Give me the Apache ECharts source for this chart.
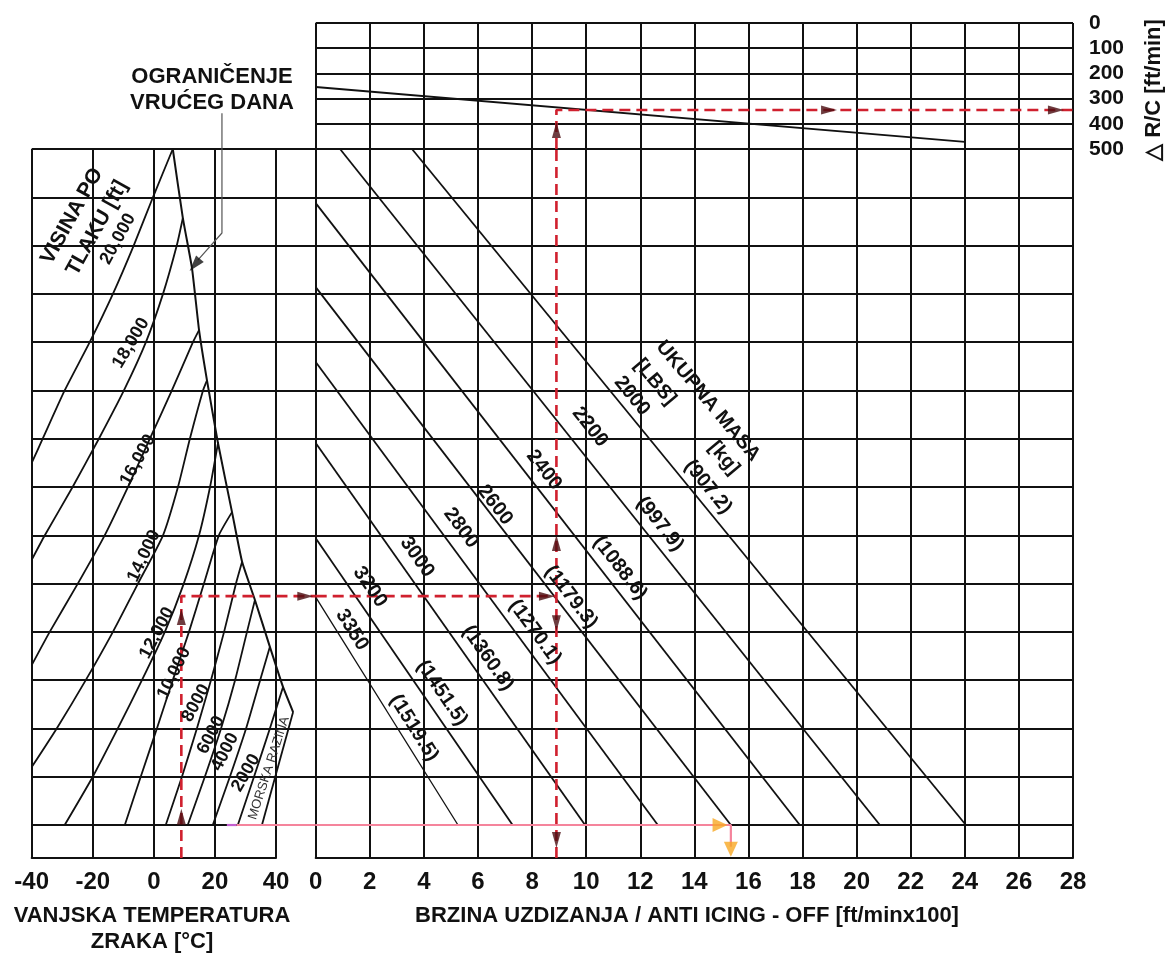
<!DOCTYPE html>
<html><head><meta charset="utf-8">
<script src="https://cdn.jsdelivr.net/npm/echarts@6/dist/echarts.min.js"></script>
<style>html,body{margin:0;padding:0;background:#fff}#c{width:1168px;height:956px}</style>
</head><body><div id="c"></div>
<script>
// ---- axis ranges [min, max, interval] ----
const tempAxis = [-40, 40, 20];      // VANJSKA TEMPERATURA ZRAKA [°C]
const rateAxis = [0, 28, 2];         // BRZINA UZDIZANJA [ft/min x100]
const drcAxis = [0, 500, 100];       // ΔR/C [ft/min]
const rowAxis = [0, 14, 1];          // unlabeled chart rows (reference lines)
const rowMin = -0.683;               // bottom strip below row 0
const gapTemp = 53;                  // temperature coordinate of right panel's left edge
const overlayRowMax = 15;            // room above the chart for the leader line

// ---- pressure altitude curves [°C, row] ----
const alt20000 = [[-40,7.5],[-36.4,8],[-29.2,9],[-21,10],[-13.4,11],[-6.6,12],[-0.3,13],[6.2,14]];
const alt18000 = [[-40,5.49],[-35.7,6],[-26.6,7],[-18,8],[-9.8,9],[-2.6,10],[3,11],[7.5,12],[9.5,12.57]];
const alt16000 = [[-40,3.31],[-34.1,4],[-24.9,5],[-16.1,6],[-8.5,7],[-1.3,8],[5.9,9],[12.8,10],[14.8,10.25]];
const alt14000 = [[-40,1.2],[-31.8,2],[-22.3,3],[-13.4,4],[-5.2,5],[3,6],[7.9,7],[11.8,8],[16.1,9],[17.4,9.21]];
const alt12000 = [[-29.2,0],[-20,1],[-11.8,2],[-3.9,3],[3.6,4],[9.8,5],[14.8,6],[18.4,7],[21,7.91]];
const alt10000 = [[-9.5,0],[-4.3,1],[1,2],[6.2,3],[11.5,4],[16.4,5],[21.3,6],[25.6,6.48]];
const alt8000 = [[3.9,0],[9.2,1],[14.1,2],[18.7,3],[23,4],[26.9,5],[28.9,5.45]];
const alt6000 = [[11.1,0],[16.7,1],[22,2],[26.6,3],[30.5,4],[33.1,4.66]];
const alt4000 = [[19.3,0],[24.9,1],[30.2,2],[34.8,3],[38,3.69]];
const alt2000 = [[27.5,0],[32.8,1],[38,2],[42.3,2.86]];
const altSea = [[35.4,0],[45.6,2.34]];
const hotDay = [[6.2,14],[9.5,12.57],[12.5,11.53],[14.8,10.25],[17.4,9.21],[21,7.91],[25.6,6.48],[28.9,5.45],[33.1,4.66],[38,3.69],[42.3,2.86],[45.6,2.34]];
const hotDayLeader = [[22.3,14.74],[22.3,12.26],[14.4,11.7]];
const hotDayTip = [[13.4,11.6]];

// ---- total mass lines [rate, row] ----
const w2000 = [[3.56,14],[24.04,0]];
const w2200 = [[0.9,14],[20.86,0]];
const w2400 = [[0,12.88],[17.9,0]];
const w2600 = [[0,11.14],[15.35,0]];
const w2800 = [[0,9.59],[12.65,0]];
const w3000 = [[0,7.91],[9.96,0]];
const w3200 = [[0,5.94],[7.28,0]];
const w3350 = [[0,4.72],[5.26,0]];

// ---- ΔR/C correction line [rate, ΔR/C] ----
const drcLine = [[0,254],[24,472]];

// ---- worked example (red dashed) ----
const exLeft = [[9,rowMin],[9,4.74],[gapTemp,4.74]];
const exMain = [[0,4.74],[8.9,4.74]];
const exVert = [[8.9,rowMin],[8.9,14]];
const exTop = [[8.9,500],[8.9,345],[28,345]];
const exUpLeft = [[9,4.31],[9,0.17]];
const exRightGap = [[49.6,4.74]];
const exRightMain = [[8.55,4.74]];
const exUpMain = [[8.9,5.84]];
const exDownMain = [[8.9,4.18],[8.9,-0.31]];
const exUpTop = [[8.9,425]];
const exRightTop = [[18.98,345],[27.37,345]];

// ---- pink path ----
const pinkLeftA = [[23.9,0],[27.1,0]];
const pinkLeftB = [[27.1,0],[gapTemp,0]];
const pinkMain = [[0,0],[15.35,0],[15.35,-0.45]];
const pinkRight = [[14.95,0]];
const pinkDown = [[15.35,-0.5]];

const FONT = "'Liberation Sans', Arial, Helvetica, sans-serif";
const INK = '#111';
const RED = '#d0202e';
const ARROW = '#4a0c10';

// layout (pixels)
const L_LEFT = 31.7, L_WIDTH = 244.3, R_LEFT = 315.7, R_WIDTH = 757.3;
const MAIN_TOP = 149, MAIN_BOTTOM = 858, TOP_TOP = 23;
const pxPerRow = (MAIN_BOTTOM - MAIN_TOP) / (rowAxis[1] - rowMin);
const pxPerDeg = L_WIDTH / (tempAxis[1] - tempAxis[0]);
const OV_TOP = MAIN_BOTTOM - (overlayRowMax - rowMin) * pxPerRow;
const OV_WIDTH = (gapTemp - tempAxis[0]) * pxPerDeg;

const chart = echarts.init(document.getElementById('c'), null, {renderer:'canvas'});

// overlay grid (index 4) shares the left panel's scale but extends to the right panel
function ln(data, gi, extra) {
  return Object.assign({type:'line', data, xAxisIndex:gi, yAxisIndex:gi, symbol:'none', clip:false,
    silent:true, animation:false, z:3, lineStyle:{color:INK, width:1.8}}, extra || {});
}
function curve(data) { return ln(data, 4, {smooth:0.2}); }
function dash(data, gi) { return ln(data, gi, {z:6, lineStyle:{color:RED, width:2.6, type:[11,6]}}); }
function arr(data, gi, rot, color, size) {
  return {type:'scatter', data, xAxisIndex:gi, yAxisIndex:gi, symbol:'triangle', symbolSize:size || [9,16],
    symbolRotate:rot, clip:false, silent:true, animation:false, z:8, itemStyle:{color:color}};
}
function txt(text, x, y, rotDeg, size, weight, fill) {
  return {type:'text', x:x, y:y, rotation:(rotDeg||0)*Math.PI/180, z:100, silent:true,
    style:{text:text, fill:fill || INK, fontSize:size, fontWeight:weight || 'bold', fontFamily:FONT,
      align:'center', verticalAlign:'middle', textAlign:'center', textVerticalAlign:'middle', lineHeight:Math.round(size*1.18)}};
}

const splitL = {show:true, lineStyle:{color:INK, width:2}};
const labelStyle = (sz) => ({fontSize:sz, fontWeight:'bold', color:INK, fontFamily:FONT});
const gridBase = {outerBoundsMode:'none', containLabel:false};

const option = {
  backgroundColor:'#fff',
  animation:false,
  grid:[
    Object.assign({left:R_LEFT, top:TOP_TOP, width:R_WIDTH, height:MAIN_TOP-TOP_TOP}, gridBase),
    Object.assign({left:L_LEFT, top:MAIN_TOP, width:L_WIDTH, height:MAIN_BOTTOM-MAIN_TOP}, gridBase),
    Object.assign({left:R_LEFT, top:MAIN_TOP, width:R_WIDTH, height:MAIN_BOTTOM-MAIN_TOP}, gridBase),
    Object.assign({left:L_LEFT, top:MAIN_TOP, width:R_LEFT+R_WIDTH-L_LEFT, height:(rowAxis[1]-rowAxis[0])*pxPerRow}, gridBase),
    Object.assign({left:L_LEFT, top:OV_TOP, width:OV_WIDTH, height:MAIN_BOTTOM-OV_TOP}, gridBase)
  ],
  xAxis:[
    {gridIndex:0, type:'value', min:rateAxis[0], max:rateAxis[1], interval:rateAxis[2],
      axisLine:{show:false}, axisTick:{show:false}, axisLabel:{show:false}, splitLine:splitL},
    {gridIndex:1, type:'value', min:tempAxis[0], max:tempAxis[1], interval:tempAxis[2],
      axisLine:{show:true, onZero:false, lineStyle:{color:INK, width:2}}, axisTick:{show:false},
      axisLabel:Object.assign({margin:12}, labelStyle(24)), splitLine:splitL},
    {gridIndex:2, type:'value', min:rateAxis[0], max:rateAxis[1], interval:rateAxis[2],
      axisLine:{show:true, onZero:false, lineStyle:{color:INK, width:2}}, axisTick:{show:false},
      axisLabel:Object.assign({margin:12}, labelStyle(24)), splitLine:splitL},
    {gridIndex:3, type:'value', min:0, max:1, show:false},
    {gridIndex:4, type:'value', min:tempAxis[0], max:gapTemp, show:false}
  ],
  yAxis:[
    {gridIndex:0, type:'value', inverse:true, position:'right', min:drcAxis[0], max:drcAxis[1], interval:drcAxis[2],
      axisLine:{show:false}, axisTick:{show:false},
      axisLabel:Object.assign({margin:16, align:'left'}, labelStyle(21)), splitLine:splitL},
    {gridIndex:1, type:'value', min:rowMin, max:rowAxis[1], axisLine:{show:false}, axisTick:{show:false},
      axisLabel:{show:false}, splitLine:{show:false}},
    {gridIndex:2, type:'value', min:rowMin, max:rowAxis[1], axisLine:{show:false}, axisTick:{show:false},
      axisLabel:{show:false}, splitLine:{show:false}},
    {gridIndex:3, type:'value', min:rowAxis[0], max:rowAxis[1], interval:rowAxis[2],
      axisLine:{show:false}, axisTick:{show:false}, axisLabel:{show:false}, splitLine:splitL},
    {gridIndex:4, type:'value', min:rowMin, max:overlayRowMax, show:false}
  ],
  series:[
    curve(alt20000), curve(alt18000), curve(alt16000), curve(alt14000), curve(alt12000),
    curve(alt10000), curve(alt8000), curve(alt6000), curve(alt4000), curve(alt2000),
    ln(altSea, 4), ln(hotDay, 4, {smooth:0.15, lineStyle:{color:INK, width:2}}),
    ln(hotDayLeader, 4, {lineStyle:{color:'#555', width:1.2}}),
    arr(hotDayTip, 4, 140, INK, [10,16]),
    ln(w2000, 2), ln(w2200, 2), ln(w2400, 2), ln(w2600, 2),
    ln(w2800, 2), ln(w3000, 2), ln(w3200, 2), ln(w3350, 2, {lineStyle:{color:INK, width:1.3}}),
    ln(drcLine, 0),
    // pink path
    ln(pinkLeftA, 4, {z:6, lineStyle:{color:'#c35fd0', width:2.2}}),
    ln(pinkLeftB, 4, {z:6, lineStyle:{color:'#f5849c', width:2.2}}),
    ln(pinkMain, 2, {z:6, lineStyle:{color:'#f5849c', width:2.2}}),
    arr(pinkRight, 2, -90, '#f7a823', [14,15]),
    arr(pinkDown, 2, 180, '#f7a823', [14,15]),
    // red dashed example
    dash(exLeft, 4), dash(exMain, 2), dash(exVert, 2), dash(exTop, 0),
    arr(exUpLeft, 4, 0, ARROW), arr(exRightGap, 4, -90, ARROW), arr(exRightMain, 2, -90, ARROW),
    arr(exUpMain, 2, 0, ARROW), arr(exDownMain, 2, 180, ARROW),
    arr(exUpTop, 0, 0, ARROW), arr(exRightTop, 0, -90, ARROW)
  ],
  graphic:[
    txt('OGRANIČENJE\nVRUĆEG DANA', 212, 90, 0, 22),
    txt('VANJSKA TEMPERATURA\nZRAKA [°C]', 152, 929, 0, 22),
    txt('BRZINA UZDIZANJA / ANTI ICING - OFF [ft/minx100]', 687, 916, 0, 22),
    txt('△ R/C [ft/min]', 1154, 90, 90, 22),
    txt('VISINA PO', 72, 216, 61, 21),
    txt('TLAKU [ft]', 97, 228, 61, 21),
    txt('20,000', 118, 239, 61, 18),
    txt('18,000', 131, 343, 59, 18),
    txt('16,000', 138, 460, 61, 18),
    txt('14,000', 144, 556, 65, 18),
    txt('12,000', 157, 633, 62, 18),
    txt('10,000', 174, 673, 64, 18),
    txt('8000', 196, 703, 61, 18),
    txt('6000', 211, 735, 63, 18),
    txt('4000', 225, 752, 63, 18),
    txt('2000', 246, 773, 60, 18),
    txt('MORSKA RAZINA', 269, 768, 72, 13, 'normal', '#333'),
    txt('UKUPNA MASA', 708, 401, -50, 20),
    txt('[LBS]', 655, 382, -50, 20),
    txt('[kg]', 724, 458, -50, 20),
    txt('2000', 632, 396, -50.7, 20),
    txt('(907.2)', 708, 487, -50.7, 20),
    txt('2200', 590, 427, -51.4, 20),
    txt('(997.9)', 660, 524, -51.4, 20),
    txt('2400', 544, 470, -52, 20),
    txt('(1088.6)', 620, 568, -52, 20),
    txt('2600', 495, 505, -52.3, 20),
    txt('(1179.3)', 571, 597, -52.3, 20),
    txt('2800', 461, 528, -53.6, 20),
    txt('(1270.1)', 535, 632, -53.6, 20),
    txt('3000', 417, 557, -54.8, 20),
    txt('(1360.8)', 488, 658, -54.8, 20),
    txt('3200', 370, 587, -55.5, 20),
    txt('(1451.5)', 442, 693, -55.5, 20),
    txt('3350', 352, 630, -58, 20),
    txt('(1519.5)', 414, 728, -58, 20)
  ]
};
chart.setOption(option);
</script>
</body></html>
